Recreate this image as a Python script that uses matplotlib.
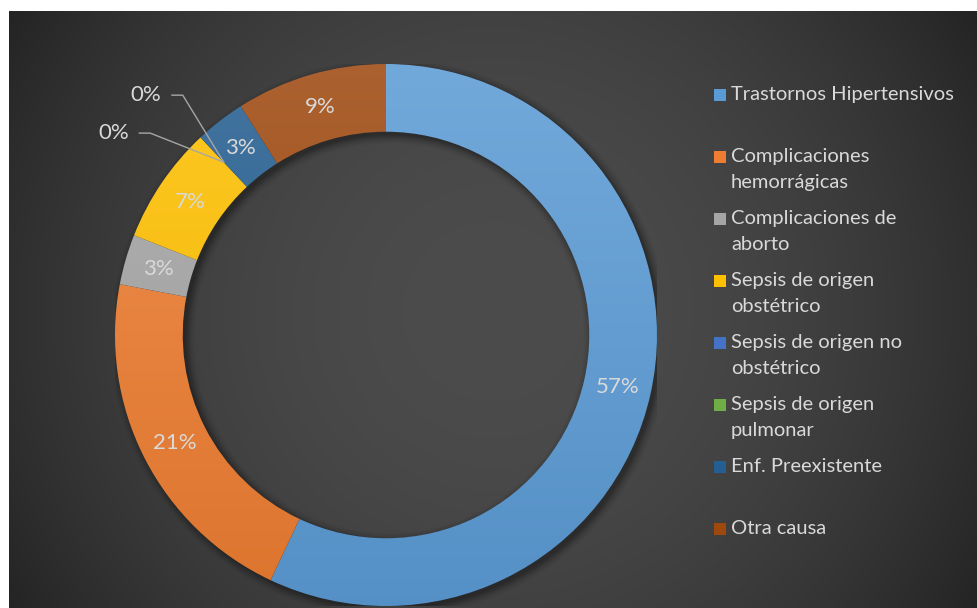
import numpy as np
import matplotlib.pyplot as plt
from matplotlib.colors import to_rgb
from matplotlib.patches import Rectangle, Wedge

plt.rcParams['font.family'] = ['Lato', 'DejaVu Sans']

# Data
categories = ['Trastornos Hipertensivos', 'Complicaciones hemorrágicas',
              'Complicaciones de aborto', 'Sepsis de origen obstétrico',
              'Sepsis de origen no obstétrico', 'Sepsis de origen pulmonar',
              'Enf. Preexistente', 'Otra causa']
legend_labels = ['Trastornos Hipertensivos', 'Complicaciones\nhemorrágicas',
                 'Complicaciones de\naborto', 'Sepsis de origen\nobstétrico',
                 'Sepsis de origen no\nobstétrico', 'Sepsis de origen\npulmonar',
                 'Enf. Preexistente', 'Otra causa']
values = [57, 21, 3, 7, 0, 0, 3, 9]
colors = ['#5B9BD5', '#ED7D31', '#A5A5A5', '#FFC000',
          '#4472C4', '#70AD47', '#255E91', '#9E480E']

W, H = 978, 608
fig = plt.figure(figsize=(W / 100, H / 100), dpi=100)
fig.patch.set_facecolor('white')

# background: dark radial gradient, white strip at top and left
bg = fig.add_axes([9 / W, 0, 1 - 9 / W, (H - 11) / H])
bg.set_axis_off()
xx, yy = np.meshgrid(np.arange(W - 9), np.arange(H - 11))
r = np.hypot(xx - 484, yy - 300) / 575
t = np.clip(r ** 2, 0, 1)[..., None]
c0 = np.array(to_rgb('#4c4c4c'))
c1 = np.array(to_rgb('#232323'))
bg.imshow(c0 * (1 - t) + c1 * t, aspect='auto', interpolation='bilinear')

# donut
cx, cy, R = 386, 335, 271
ax = fig.add_axes([(cx - R) / W, (H - cy - R) / H, 2 * R / W, 2 * R / H])
ax.set_axis_off()
width = 0.25

# soft shadow under the ring
for k, a in zip(range(6), [0.10, 0.09, 0.08, 0.06, 0.04, 0.03]):
    sh = Wedge((0.012, -0.012), 1 + k * 0.006, 0, 360, width=width + k * 0.012,
               facecolor='black', alpha=a, edgecolor='none')
    ax.add_patch(sh)

wedges, _ = ax.pie(values, colors=colors, startangle=90, counterclock=False,
                   radius=1, wedgeprops=dict(width=width, edgecolor='none'))

gy = np.linspace(1, 0, 256)[:, None, None]
for w, col in zip(wedges, colors):
    base = np.array(to_rgb(col))
    top = base + (1 - base) * 0.14
    bot = base * 0.93
    img = np.repeat(top * gy + bot * (1 - gy), 2, axis=1)
    im = ax.imshow(img, extent=[-1, 1, -1, 1], interpolation='bilinear',
                   zorder=2, aspect='auto')
    im.set_clip_path(w)
    w.set_facecolor('none')

ax.set_xlim(-1, 1)
ax.set_ylim(-1, 1)
ax.set_aspect('equal')

# data labels
total = sum(values)
cum = np.cumsum([0] + values)
txtc = '#d9d9d9'
mid_r = 1 - width / 2
for i, v in enumerate(values):
    ang = np.deg2rad(90 - 360 * (cum[i] + v / 2) / total)
    px, py = mid_r * np.cos(ang), mid_r * np.sin(ang)
    if v == 0:
        continue
    ax.text(px, py, f'{v}%', ha='center', va='center', fontsize=16,
            color=txtc, zorder=5)

# zero labels with leader lines
zero_idx = [i for i, v in enumerate(values) if v == 0]
label_pos = [(-1.005, 0.745), (-0.885, 0.885)]
for i, (lx, ly) in zip(zero_idx, label_pos):
    ang = np.deg2rad(90 - 360 * cum[i] / total)
    px, py = mid_r * np.cos(ang), mid_r * np.sin(ang)
    ax.text(lx, ly, f'{values[i]}%', ha='center', va='center', fontsize=16,
            color=txtc, zorder=5)
    ex = lx + 0.095
    ax.plot([ex, ex + 0.04, px], [ly, ly, py], color='#a6a6a6', lw=1,
            zorder=4, clip_on=False)

# legend
for i, (lab, col) in enumerate(zip(legend_labels, colors)):
    y = 95 + 62 * i
    fig.patches.append(Rectangle((714 / W, (H - y - 6) / H), 12 / W, 12 / H,
                                 facecolor=col, edgecolor='none',
                                 transform=fig.transFigure, figure=fig))
    fig.text(731 / W, (H - y + 9) / H, lab, ha='left', va='top',
             fontsize=14.5, color=txtc, linespacing=1.62)

fig.savefig('out.png', dpi=100)
